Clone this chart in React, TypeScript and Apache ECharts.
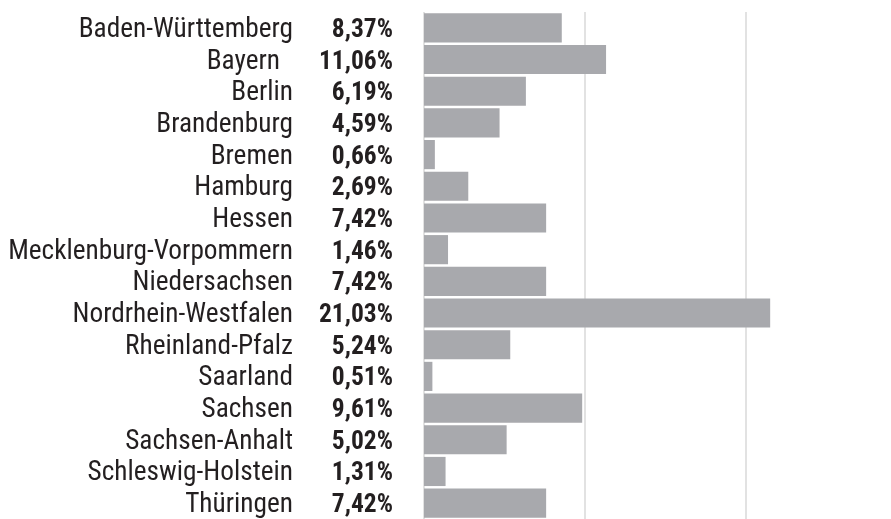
import React, { useEffect, useRef } from "react";
import * as echarts from "echarts";

const states = [
  "Baden-Württemberg",
  "Bayern",
  "Berlin",
  "Brandenburg",
  "Bremen",
  "Hamburg",
  "Hessen",
  "Mecklenburg-Vorpommern",
  "Niedersachsen",
  "Nordrhein-Westfalen",
  "Rheinland-Pfalz",
  "Saarland",
  "Sachsen",
  "Sachsen-Anhalt",
  "Schleswig-Holstein",
  "Thüringen",
];

const shares = [8.37, 11.06, 6.19, 4.59, 0.66, 2.69, 7.42, 1.46, 7.42, 21.03, 5.24, 0.51, 9.61, 5.02, 1.31, 7.42];

const FONT = "'Roboto Condensed', 'Liberation Sans Narrow', 'DejaVu Sans Condensed', Roboto, sans-serif";

const fmt = (v: number) => v.toFixed(2).replace(".", ",") + "%";

export default function App() {
  const ref = useRef<HTMLDivElement>(null);
  useEffect(() => {
    if (!ref.current) return;
    const chart = echarts.init(ref.current, undefined, { renderer: "svg" });
    chart.setOption({
      animation: false,
      grid: { left: 424, top: 12, width: 467, height: 507, containLabel: false },
      xAxis: {
        type: "value",
        min: 0,
        max: 28.37,
        interval: 9.76,
        axisLine: { show: false },
        axisTick: { show: false },
        axisLabel: { show: false },
        splitLine: { show: true, showMaxLine: false, lineStyle: { color: "#d9d9d9", width: 1.5 } },
      },
      yAxis: {
        type: "category",
        inverse: true,
        data: states,
        axisLine: { show: false },
        axisTick: { show: false },
        axisLabel: {
          margin: 31,
          fontFamily: FONT,
          formatter: (name: string, idx: number) =>
            `{${name === "Bayern" ? "nb" : "n"}|${name}}{v|${fmt(shares[idx])}}`,
          rich: {
            n: { fontFamily: FONT, fontSize: 27.3, color: "#231f20", align: "right" },
            nb: { fontFamily: FONT, fontSize: 27.3, color: "#231f20", align: "right", padding: [0, 13, 0, 0] },
            v: { fontFamily: FONT, fontSize: 25.5, fontWeight: "bold", color: "#231f20", width: 100, align: "right" },
          },
        },
      },
      series: [
        {
          type: "bar",
          data: shares,
          barCategoryGap: "8%",
          itemStyle: { color: "#a8a9ad" },
          silent: true,
        },
      ],
    });
    return () => chart.dispose();
  }, []);
  return <div ref={ref} style={{ position: "fixed", left: 0, top: 0, width: 891, height: 519 }} />;
}
